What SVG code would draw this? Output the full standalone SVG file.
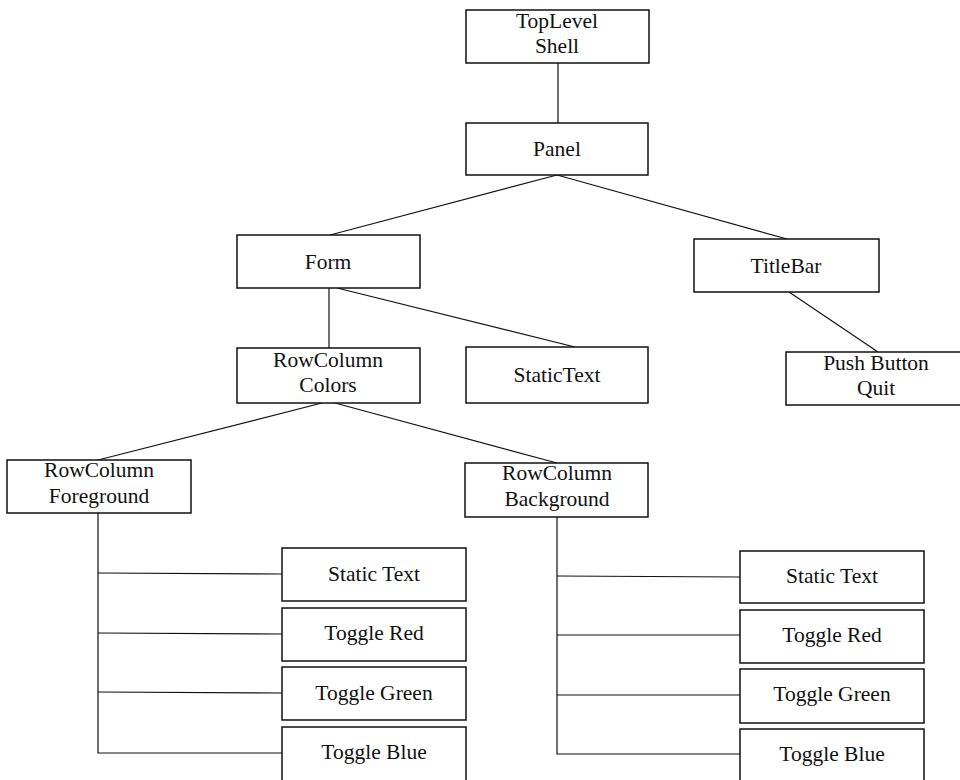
<svg xmlns="http://www.w3.org/2000/svg" width="960" height="780" viewBox="0 0 960 780">
<style>
.b{fill:#fff;stroke:#111;stroke-width:1.5}
.c{fill:none;stroke:#111;stroke-width:1.2}
text{font-family:"Liberation Serif","Times New Roman",serif;font-size:21.5px;fill:#111;text-anchor:middle}
</style>
<rect width="960" height="780" fill="#fff"/>
<g id="connectors">
<line class="c" x1="558" y1="63" x2="558" y2="123"/>
<line class="c" x1="557" y1="175" x2="330" y2="235"/>
<line class="c" x1="557" y1="175" x2="787" y2="239"/>
<line class="c" x1="789" y1="292" x2="878" y2="352"/>
<line class="c" x1="329" y1="288" x2="329" y2="348"/>
<line class="c" x1="337" y1="288" x2="575" y2="347"/>
<line class="c" x1="322" y1="403" x2="98" y2="460"/>
<line class="c" x1="335" y1="403" x2="557" y2="463"/>
<polyline class="c" points="98,513 98,753 282,753"/>
<line class="c" x1="98" y1="573" x2="282" y2="574"/>
<line class="c" x1="98" y1="633" x2="282" y2="634"/>
<line class="c" x1="98" y1="692" x2="282" y2="693"/>
<polyline class="c" points="557,517 557,754 740,754"/>
<line class="c" x1="557" y1="576" x2="740" y2="577"/>
<line class="c" x1="557" y1="635" x2="740" y2="635"/>
<line class="c" x1="557" y1="695" x2="740" y2="695"/>
</g>
<g id="toplevel"><rect class="b" x="466" y="10" width="183" height="53"/><text x="557" y="28">TopLevel</text><text x="557" y="53">Shell</text></g>
<g id="panel"><rect class="b" x="466" y="123" width="182" height="52"/><text x="557" y="156">Panel</text></g>
<g id="form"><rect class="b" x="237" y="235" width="183" height="53"/><text x="328" y="269">Form</text></g>
<g id="titlebar"><rect class="b" x="694" y="239" width="185" height="53"/><text x="786" y="273">TitleBar</text></g>
<g id="pushbutton"><rect class="b" x="786" y="352" width="180" height="53"/><text x="876" y="370">Push Button</text><text x="876" y="395">Quit</text></g>
<g id="rccolors"><rect class="b" x="237" y="348" width="183" height="55"/><text x="328" y="367">RowColumn</text><text x="328" y="392">Colors</text></g>
<g id="statictext"><rect class="b" x="466" y="347" width="182" height="56"/><text x="557" y="382">StaticText</text></g>
<g id="rcforeground"><rect class="b" x="7" y="460" width="184" height="53"/><text x="99" y="477">RowColumn</text><text x="99" y="503">Foreground</text></g>
<g id="rcbackground"><rect class="b" x="465" y="463" width="183" height="54"/><text x="557" y="480">RowColumn</text><text x="557" y="506">Background</text></g>
<g id="fg-static"><rect class="b" x="282" y="548" width="184" height="53"/><text x="374" y="581">Static Text</text></g>
<g id="fg-red"><rect class="b" x="282" y="608" width="184" height="53"/><text x="374" y="640">Toggle Red</text></g>
<g id="fg-green"><rect class="b" x="282" y="667" width="184" height="53"/><text x="374" y="700">Toggle Green</text></g>
<g id="fg-blue"><rect class="b" x="282" y="727" width="184" height="60"/><text x="374" y="759">Toggle Blue</text></g>
<g id="bg-static"><rect class="b" x="740" y="551" width="184" height="52"/><text x="832" y="583">Static Text</text></g>
<g id="bg-red"><rect class="b" x="740" y="610" width="184" height="53"/><text x="832" y="642">Toggle Red</text></g>
<g id="bg-green"><rect class="b" x="740" y="669" width="184" height="54"/><text x="832" y="701">Toggle Green</text></g>
<g id="bg-blue"><rect class="b" x="740" y="729" width="184" height="60"/><text x="832" y="761">Toggle Blue</text></g>
</svg>
